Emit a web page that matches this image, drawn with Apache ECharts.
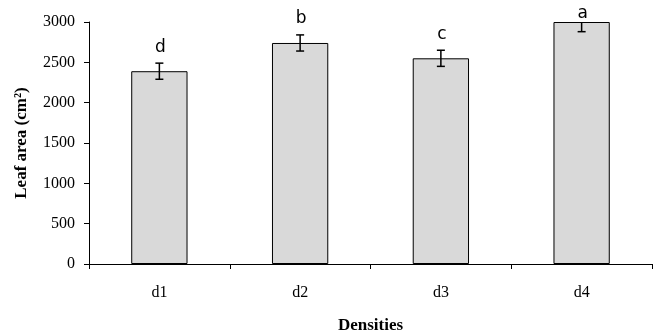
<!DOCTYPE html>
<html>
<head>
<meta charset="utf-8">
<script src="https://cdn.jsdelivr.net/npm/echarts@6/dist/echarts.min.js"></script>
<style>
  html, body { margin: 0; padding: 0; background: #fff; }
  #chart { width: 653px; height: 334px; }
</style>
</head>
<body>
<div id="chart"></div>
<script>
// data
var densities = ["d1", "d2", "d3", "d4"];
var leafArea = [2390, 2740, 2550, 3000];
var leafErr = [100, 100, 100, 120];
var groupLetters = ["d", "b", "c", "a"];

var myChart = echarts.init(document.getElementById("chart"));

var serif = "Liberation Serif";

var option = {
  animation: false,
  grid: { left: 89, right: 1, top: 22, bottom: 70, outerBoundsMode: "none", containLabel: false },
  xAxis: {
    type: "category",
    data: densities,
    name: "Densities",
    nameLocation: "middle",
    nameGap: 53,
    nameTextStyle: { fontFamily: serif, fontWeight: "bold", fontSize: 17, color: "#000" },
    axisLine: { lineStyle: { color: "#000", width: 1 } },
    axisTick: { show: true, length: 5, lineStyle: { color: "#000" } },
    axisLabel: { fontFamily: serif, fontSize: 16, color: "#000", margin: 21 }
  },
  yAxis: {
    type: "value",
    min: 0,
    max: 3000,
    interval: 500,
    name: "Leaf area (cm²)",
    nameLocation: "middle",
    nameGap: 59,
    nameTextStyle: { fontFamily: serif, fontWeight: "bold", fontSize: 17, color: "#000" },
    axisLine: { show: true, lineStyle: { color: "#000", width: 1 } },
    axisTick: { show: true, length: 5, lineStyle: { color: "#000" } },
    axisLabel: {
      fontFamily: serif, fontSize: 16, color: "#000", margin: 14,
      formatter: function (v) { return String(v); }
    },
    splitLine: { show: false }
  },
  series: [
    {
      type: "bar",
      data: leafArea,
      barWidth: "40%",
      z: 2,
      itemStyle: { color: "#d9d9d9", borderColor: "#000", borderWidth: 1 }
    },
    {
      // error bars + significance letters
      type: "custom",
      z: 5,
      clip: false,
      data: leafArea.map(function (v, i) { return [i, v, leafErr[i]]; }),
      renderItem: function (params, api) {
        var x = api.coord([api.value(0), 0])[0];
        var mean = api.value(1);
        var err = api.value(2);
        var top = api.coord([api.value(0), mean + err])[1];
        var bot = api.coord([api.value(0), mean - err])[1];
        var minY = api.coord([0, 3000])[1];
        var capTop = Math.max(top, minY);
        var hw = 4;
        var st = { stroke: "#000", lineWidth: 1.5 };
        var children = [
          { type: "line", shape: { x1: x, y1: capTop, x2: x, y2: bot }, style: st },
          { type: "line", shape: { x1: x - hw, y1: bot, x2: x + hw, y2: bot }, style: st }
        ];
        if (top >= minY) {
          children.push({ type: "line", shape: { x1: x - hw, y1: top, x2: x + hw, y2: top }, style: st });
        }
        children.push({
          type: "text",
          z2: 10,
          style: {
            text: groupLetters[params.dataIndex],
            x: x + 1,
            y: Math.max(top - 16, minY - 8),
            align: "center",
            verticalAlign: "middle",
            font: "17px 'DejaVu Sans'",
            fill: "#000"
          }
        });
        return { type: "group", children: children };
      }
    }
  ]
};

myChart.setOption(option);
</script>
</body>
</html>
